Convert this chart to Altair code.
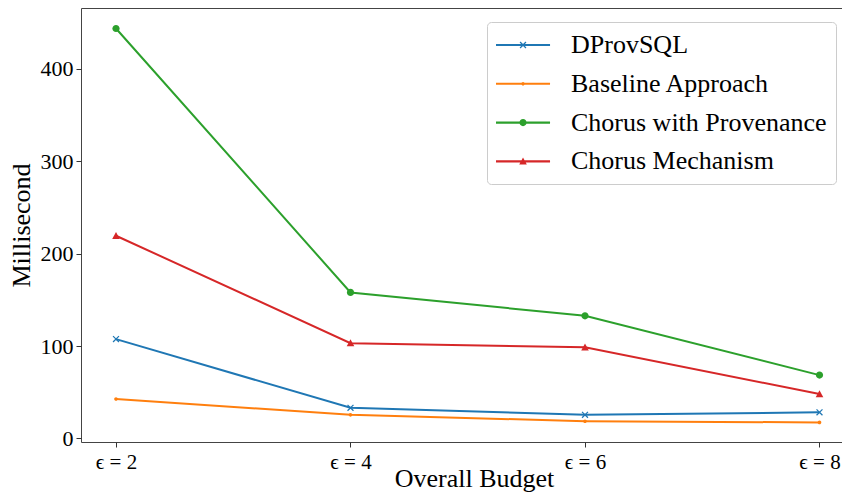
import altair as alt
import pandas as pd

budgets = [2, 4, 6, 8]
series_names = ["DProvSQL", "Baseline Approach", "Chorus with Provenance", "Chorus Mechanism"]
dprovsql = [107.6, 33.2, 25.6, 28.3]
baseline = [42.7, 25.6, 18.7, 17.4]
chorus_prov = [443.8, 158.1, 132.8, 68.6]
chorus_mech = [219.5, 103.2, 98.8, 48.1]
colors = ["#1f77b4", "#ff7f0e", "#2ca02c", "#d62728"]
y_ticks = [0, 100, 200, 300, 400]

rows = []
for name, vals in zip(series_names, [dprovsql, baseline, chorus_prov, chorus_mech]):
    for b, v in zip(budgets, vals):
        rows.append({"budget": b, "ms": v, "series": name})
df = pd.DataFrame(rows)

FONT = "Liberation Serif"


def poly(pts, s=1.0, dx=0.0):
    return "M" + "L".join(f"{x*s+dx:.4f},{y*s:.4f}" for x, y in pts) + "Z"


def circ(r, s=1.0, dx=0.0):
    r = r * s
    return (f"M{r+dx:.4f},0A{r:.4f},{r:.4f} 0 1,1 {-r+dx:.4f},0"
            f"A{r:.4f},{r:.4f} 0 1,1 {r+dx:.4f},0Z")


a, d = 0.85, 0.22
x_pts = [(-a, -a + d), (-a + d, -a), (0, -d), (a - d, -a), (a, -a + d), (d, 0),
         (a, a - d), (a - d, a), (0, d), (-a + d, a), (-a, a - d), (-d, 0)]
tri_pts = [(0, -0.95), (0.95, 0.8), (-0.95, 0.8)]


def marker(i, s=1.0, dx=0.0):
    if i == 0:
        return poly(x_pts, s, dx)
    if i == 1:
        return circ(0.45, s, dx)
    if i == 2:
        return circ(0.9, s, dx)
    return poly(tri_pts, s, dx)


plot_shapes = [marker(i) for i in range(4)]
ls = 4.0 / 14.0
shift = 0.93
line_rect = poly([(-1, -0.075), (2.86, -0.075), (2.86, 0.075), (-1, 0.075)])
legend_shapes = [line_rect + marker(i, ls, shift) for i in range(4)]

xs = alt.Scale(domain=[1.7015, 8.1919], nice=False, zero=False)
ys = alt.Scale(domain=[-3.8, 466], nice=False, zero=False)

x_enc = alt.X("budget:Q", scale=xs, axis=alt.Axis(
    values=budgets, labelExpr="'ϵ = ' + datum.value", grid=False, domain=False,
    tickSize=5, tickColor="#333333", labelFont=FONT, labelFontSize=21,
    labelColor="black", labelPadding=4, title="Overall Budget", titleFont=FONT,
    titleFontSize=26, titleFontWeight="normal", titleColor="black",
    titleX=393, titleY=44, titleBaseline="alphabetic"))
y_enc = alt.Y("ms:Q", scale=ys, axis=alt.Axis(
    values=y_ticks, grid=False, domain=False, tickSize=5, tickColor="#333333",
    labelFont=FONT, labelFontSize=22, labelColor="black", labelPadding=3,
    title="Millisecond", titleFont=FONT, titleFontSize=26, titleFontWeight="normal",
    titleColor="black", titlePadding=6))

cscale = alt.Scale(domain=series_names, range=colors)

lines = alt.Chart(df).mark_line(strokeWidth=2).encode(
    x=x_enc, y=y_enc,
    color=alt.Color("series:N", scale=cscale, legend=None),
    order="budget:Q")

points = alt.Chart(df).mark_point(filled=True, size=64, opacity=1).encode(
    x="budget:Q", y="ms:Q",
    color=alt.Color("series:N", scale=cscale, legend=None),
    shape=alt.Shape("series:N", scale=alt.Scale(domain=series_names, range=plot_shapes), legend=None))

leg = alt.Legend(title=None, orient="none", legendX=406, legendY=14,
                 labelFont=FONT, labelFontSize=26, labelColor="black",
                 symbolSize=784, labelOffset=47, rowPadding=11.8, padding=9,
                 strokeColor="#cccccc", fillColor="white", cornerRadius=4,
                 symbolOpacity=1, symbolStrokeWidth=0, labelLimit=0)

dummy = alt.Chart(df).mark_point(filled=True, size=64, opacity=0).encode(
    x="budget:Q", y="ms:Q",
    color=alt.Color("series:N", scale=cscale, legend=leg),
    shape=alt.Shape("series:N", scale=alt.Scale(domain=series_names, range=legend_shapes), legend=leg))

chart = alt.layer(lines, points, dummy).resolve_scale(
    color="independent", shape="independent"
).properties(
    width=761, height=434,
    autosize=alt.AutoSizeParams(type="none"),
    padding={"left": 73, "top": 0, "right": 0, "bottom": 50},
).configure_view(stroke="#444444", strokeWidth=1)

chart.save("out.html", embed_options={"renderer": "svg", "actions": False})
